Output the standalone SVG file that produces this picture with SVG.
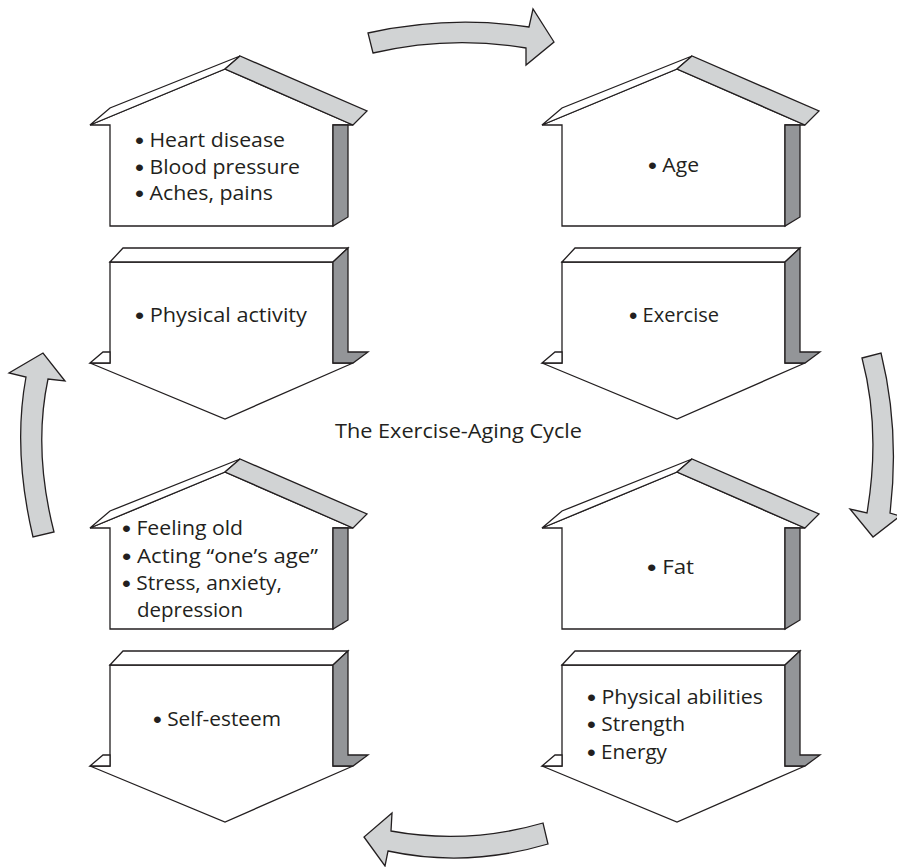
<svg xmlns="http://www.w3.org/2000/svg" xmlns:xlink="http://www.w3.org/1999/xlink" width="897" height="867" viewBox="0 0 897 867">
  <style>
    .ln { stroke: #231f20; stroke-width: 1.3; stroke-linejoin: miter; }
    .wh { fill: #ffffff; }
    .lt { fill: #d1d3d4; }
    .dk { fill: #939598; }
    .arrow { fill: #d1d3d4; stroke: #231f20; stroke-width: 1.3; }
    .lbl { font-family: "Open Sans", "Noto Sans", "Liberation Sans", sans-serif; font-size: 20px; fill: #231f20; }
    .bul { font-family: "Liberation Sans", "DejaVu Sans", sans-serif; font-size: 24px; baseline-shift: -2px; }
    .title { font-family: "Open Sans", "Noto Sans", "Liberation Sans", sans-serif; font-size: 20px; fill: #231f20; }
  </style>
  <defs>
    <!-- house shape; origin = top-left corner of the front wall -->
    <g id="house">
      <path class="ln wh" d="M0,101 V0 H-20 L115,-56 L243,0 H223 V101 Z"/>
      <path class="ln wh" d="M-20,0 L0,-17 L130,-69 L115,-56 Z"/>
      <path class="ln lt" d="M115,-56 L130,-69 L257,-14 L243,0 Z"/>
      <path class="ln dk" d="M223,0 H238 V92 L223,101 Z"/>
    </g>
    <!-- downward block arrow; origin = top-left corner of the front face -->
    <g id="block">
      <path class="ln wh" d="M0,0 H223 V101 H243 L115,157 L-20,101 H0 Z"/>
      <path class="ln wh" d="M0,0 L13,-14 H238 L223,0 Z"/>
      <path class="ln wh" d="M-20,101 L-7,90 H0 V101 Z"/>
      <path class="ln dk" d="M223,0 L238,-14 V90 H258 L243,101 H223 Z"/>
    </g>
  </defs>

  <rect width="897" height="867" fill="#ffffff"/>

  <!-- curved cycle arrows -->
  <g id="connectors">
    <path class="arrow" d="M368,33 Q450,15 529,27 L533,9 L554,42 L526,65 L526,48 Q450,35 373,53 Z"/>
    <path class="arrow" d="M862,358 L881,353 Q900,430 890,513 L900,516 L873,537 L850,509 L867,513 Q881,430 862,358 Z"/>
    <path class="arrow" d="M543,823 Q467,845 391,831 L392,813 L364,837 L385,866 L388,851 Q467,868 548,844 Z"/>
    <path class="arrow" d="M33,537 Q12.5,450 26,377 L9,373 L43,353 L65,381 L48,379 Q33,450 54,532 Z"/>
  </g>

  <g id="house-health">
    <use xlink:href="#house" href="#house" transform="translate(110,125)"/>
    <text class="lbl" x="135" y="147" textLength="150" lengthAdjust="spacingAndGlyphs"><tspan class="bul">•</tspan> Heart disease</text>
    <text class="lbl" x="135" y="173.5" textLength="165" lengthAdjust="spacingAndGlyphs"><tspan class="bul">•</tspan> Blood pressure</text>
    <text class="lbl" x="135" y="200" textLength="138" lengthAdjust="spacingAndGlyphs"><tspan class="bul">•</tspan> Aches, pains</text>
  </g>

  <g id="block-activity">
    <use xlink:href="#block" href="#block" transform="translate(110,262)"/>
    <text class="lbl" x="135" y="322" textLength="172" lengthAdjust="spacingAndGlyphs"><tspan class="bul">•</tspan> Physical activity</text>
  </g>

  <g id="house-age">
    <use xlink:href="#house" href="#house" transform="translate(562,125)"/>
    <text class="lbl" x="648" y="172" textLength="51" lengthAdjust="spacingAndGlyphs"><tspan class="bul">•</tspan> Age</text>
  </g>

  <g id="block-exercise">
    <use xlink:href="#block" href="#block" transform="translate(562,262)"/>
    <text class="lbl" x="629" y="322" textLength="90" lengthAdjust="spacingAndGlyphs"><tspan class="bul">•</tspan> Exercise</text>
  </g>

  <g id="house-fat">
    <use xlink:href="#house" href="#house" transform="translate(562,528)"/>
    <text class="lbl" x="647" y="574" textLength="47" lengthAdjust="spacingAndGlyphs"><tspan class="bul">•</tspan> Fat</text>
  </g>

  <g id="block-abilities">
    <use xlink:href="#block" href="#block" transform="translate(562,665)"/>
    <text class="lbl" x="587" y="703.5" textLength="176" lengthAdjust="spacingAndGlyphs"><tspan class="bul">•</tspan> Physical abilities</text>
    <text class="lbl" x="587" y="731" textLength="98" lengthAdjust="spacingAndGlyphs"><tspan class="bul">•</tspan> Strength</text>
    <text class="lbl" x="587" y="758.5" textLength="80" lengthAdjust="spacingAndGlyphs"><tspan class="bul">•</tspan> Energy</text>
  </g>

  <g id="house-feeling">
    <use xlink:href="#house" href="#house" transform="translate(110,528)"/>
    <text class="lbl" x="122" y="535" textLength="121" lengthAdjust="spacingAndGlyphs"><tspan class="bul">•</tspan> Feeling old</text>
    <text class="lbl" x="122" y="562.5" textLength="196" lengthAdjust="spacingAndGlyphs"><tspan class="bul">•</tspan> Acting “one’s age”</text>
    <text class="lbl" x="122" y="590" textLength="160" lengthAdjust="spacingAndGlyphs"><tspan class="bul">•</tspan> Stress, anxiety,</text>
    <text class="lbl" x="137" y="617" textLength="106" lengthAdjust="spacingAndGlyphs">depression</text>
  </g>

  <g id="block-esteem">
    <use xlink:href="#block" href="#block" transform="translate(110,665)"/>
    <text class="lbl" x="153" y="726" textLength="128" lengthAdjust="spacingAndGlyphs"><tspan class="bul">•</tspan> Self-esteem</text>
  </g>

  <text class="title" x="335" y="438" textLength="247" lengthAdjust="spacingAndGlyphs">The Exercise-Aging Cycle</text>
</svg>
